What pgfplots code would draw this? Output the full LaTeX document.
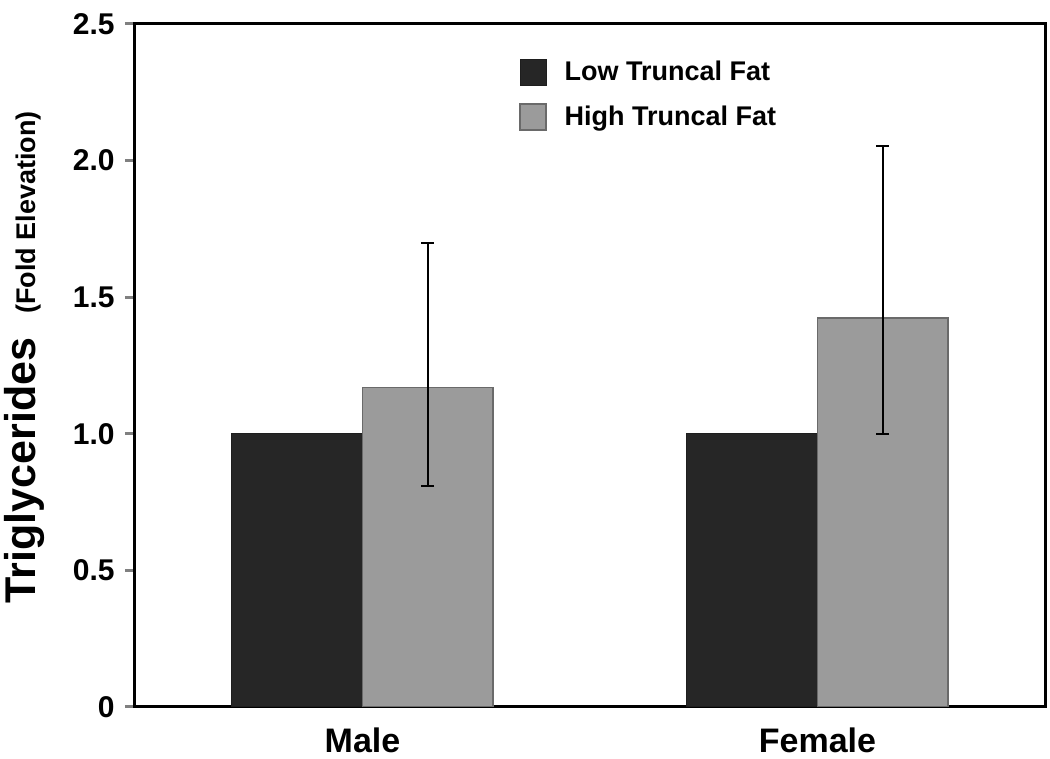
\documentclass[border=0pt]{standalone}
\usepackage{pgfplots}
\pgfplotsset{compat=1.18}
\usepackage{fontspec}
\setmainfont{Liberation Sans}
\definecolor{darkbar}{HTML}{262626}
\definecolor{lightbar}{HTML}{9B9B9B}
\definecolor{lightedge}{HTML}{6A6A6A}
\begin{document}
\begin{tikzpicture}
\begin{axis}[
  scale only axis,
  width=455pt, height=341.5pt,
  xmin=0.5, xmax=2.5,
  ymin=0, ymax=2.5,
  axis line style={line width=1.5pt},
  xtick={1,2},
  xticklabels={Male,Female},
  xtick style={draw=none},
  xticklabel style={font=\fontsize{17}{20}\selectfont\bfseries, inner sep=0pt, yshift=-10pt},
  ytick={0,0.5,1,1.5,2,2.5},
  yticklabels={0,0.5,1.0,1.5,2.0,2.5},
  yticklabel style={font=\fontsize{15}{18}\selectfont\bfseries, inner sep=0pt, xshift=-5pt},
  ytick align=outside,
  ytick pos=left,
  major tick length=5pt,
  ytick style={line width=1.5pt},
  ylabel={{\fontsize{21.5}{25}\selectfont Triglycerides}\hspace{12pt}{\fontsize{13.5}{16}\selectfont (Fold Elevation)}},
  ylabel style={font=\bfseries, at={(axis description cs:-0.122,0.512)}, anchor=center},
  legend style={at={(axis description cs:0.422,0.952)}, anchor=north west, draw=none, fill=none,
    font=\fontsize{13.5}{16}\selectfont\bfseries, inner sep=0pt, row sep=7pt},
  legend cell align=left,
  legend image code/.code={\draw[#1] (0pt,-6.5pt) rectangle (13pt,6.5pt);},
  every axis legend/.append style={nodes={inner xsep=0pt}},
]
\addplot[ybar, bar width=0.287, bar shift=0, fill=darkbar, draw=darkbar!80!black, line width=0.5pt]
  coordinates {(0.8565,1.0) (1.8565,1.0)};
\addlegendentry{\hspace{9pt}Low Truncal Fat}
\addplot[ybar, bar width=0.287, bar shift=0, fill=lightbar, draw=lightedge, line width=0.6pt,
  error bars/.cd, y dir=both, y explicit,
  error bar style={line width=1pt, black},
  error mark options={rotate=90, mark size=3.2pt, line width=1pt, black}]
  coordinates {(1.1435,1.168) +=(0,0.530) -=(0,0.359)
               (2.1435,1.424) +=(0,0.629) -=(0,0.425)};
\addlegendentry{\hspace{9pt}High Truncal Fat}
\end{axis}
\pgfresetboundingbox
\path[use as bounding box] ([xshift=-67.5pt,yshift=-26pt]current axis.south west) rectangle ([xshift=2.5pt,yshift=12pt]current axis.north east);
\end{tikzpicture}
\end{document}
